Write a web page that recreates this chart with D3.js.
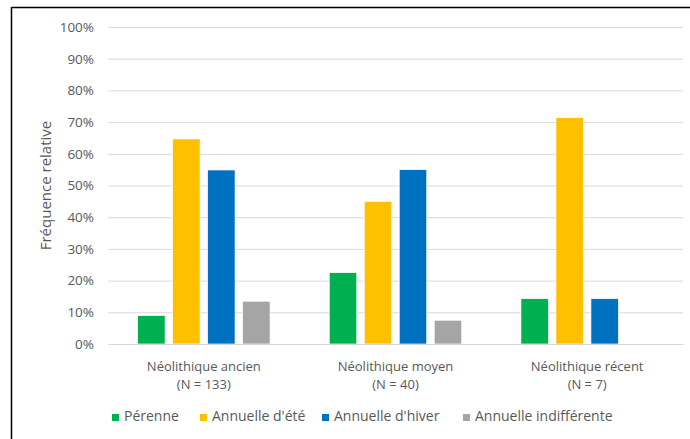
<!DOCTYPE html>
<html><head><meta charset="utf-8">
<script src="https://cdn.jsdelivr.net/npm/d3@7/dist/d3.min.js"></script>
<style>body{margin:0;background:#fff}svg{display:block}text{font-family:"Open Sans",Lato,sans-serif}</style>
</head><body>
<script>
const categories = ["Néolithique ancien", "Néolithique moyen", "Néolithique récent"];
const categoryN = ["(N = 133)", "(N = 40)", "(N = 7)"];
const seriesNames = ["Pérenne", "Annuelle d'été", "Annuelle d'hiver", "Annuelle indifférente"];
const perenne = [9.0, 22.5, 14.3];
const ete = [64.7, 45.0, 71.4];
const hiver = [54.9, 55.0, 14.3];
const indiff = [13.5, 7.5, 0];
const colors = ["#00b050", "#ffc000", "#0070c0", "#a5a5a5"];
const yTicks = [0,10,20,30,40,50,60,70,80,90,100];

(function(){
const W = 690, H = 439;
const svg = d3.select("body").append("svg").attr("width", W).attr("height", H);
svg.append("line").attr("x1",11.5).attr("x2",690).attr("y1",7.5).attr("y2",7.5).attr("stroke","#000").attr("stroke-width",1.5);
svg.append("line").attr("x1",11.5).attr("x2",11.5).attr("y1",7).attr("y2",439).attr("stroke","#000").attr("stroke-width",1.5);

const pl = 108, pr = 683, pt = 27, pb = 344;
const x = d3.scaleBand().domain(categories).range([pl, pr]);
const y = d3.scaleLinear().domain([0, 100]).range([pb, pt]);
const inner = d3.scaleBand().domain(seriesNames).range([0, x.bandwidth()]).paddingInner(0.214).paddingOuter(0.846);

const yAxis = d3.axisLeft(y).tickValues(yTicks).tickFormat(d => d + "%").tickSize(-(pr-pl)).tickPadding(14);
const gy = svg.append("g").attr("transform", `translate(${pl},0)`).call(yAxis);
gy.select(".domain").remove();
gy.selectAll(".tick line").attr("stroke", "#d9d9d9").attr("stroke-width", 1);
gy.selectAll(".tick text").attr("fill", "#595959").attr("font-size", 13.5).attr("font-family", '"Open Sans",Lato,sans-serif');

const data = [perenne, ete, hiver, indiff];
data.forEach((vals, si) => {
  svg.append("g").selectAll("rect").data(vals.map((v,i)=>({v, c: categories[i]})).filter(d=>d.v>0))
    .join("rect")
    .attr("x", d => x(d.c) + inner(seriesNames[si]))
    .attr("width", inner.bandwidth())
    .attr("y", d => y(d.v))
    .attr("height", d => y(0) - y(d.v))
    .attr("fill", colors[si])
    .attr("stroke", "#fff").attr("stroke-width", 0.7);
});

const gx = svg.append("g").attr("transform", `translate(0,${pb})`).call(d3.axisBottom(x).tickSize(0).tickFormat(""));
gx.select(".domain").attr("stroke", "#d9d9d9");
categories.forEach((c, i) => {
  const cx = x(c) + x.bandwidth()/2;
  svg.append("text").attr("x", cx).attr("y", 371).attr("text-anchor","middle").attr("fill","#595959").attr("font-size",13).text(c);
  svg.append("text").attr("x", cx).attr("y", 389).attr("text-anchor","middle").attr("fill","#595959").attr("font-size",13).text(categoryN[i]);
});

svg.append("text").attr("transform", `translate(51,${(pt+pb)/2}) rotate(-90)`).attr("text-anchor","middle")
  .attr("fill","#595959").attr("font-size",15).text("Fréquence relative");

const legX = [112, 200, 322, 463];
seriesNames.forEach((n, i) => {
  svg.append("rect").attr("x", legX[i]).attr("y", 414).attr("width", 7).attr("height", 7).attr("fill", colors[i]);
  svg.append("text").attr("x", legX[i] + 12).attr("y", 421).attr("fill","#595959").attr("font-size",14).text(n);
});
})();
</script>
</body></html>
